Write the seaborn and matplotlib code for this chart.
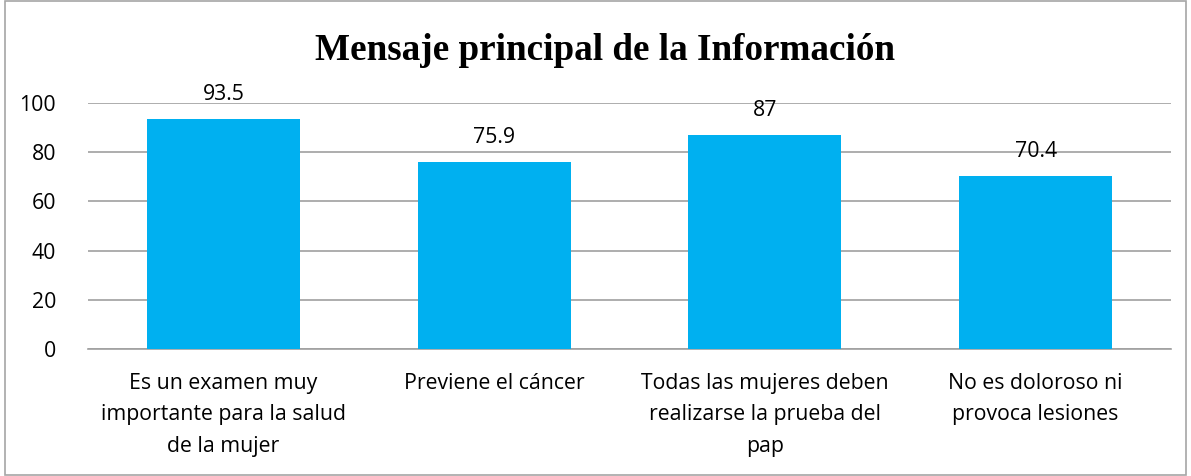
import matplotlib
matplotlib.use("Agg")
import matplotlib.pyplot as plt
import seaborn as sns
import pandas as pd
from matplotlib.patches import Rectangle

categories = ["Es un examen muy\nimportante para la salud\nde la mujer",
              "Previene el cáncer",
              "Todas las mujeres deben\nrealizarse la prueba del\npap",
              "No es doloroso ni\nprovoca lesiones"]
values = [93.5, 75.9, 87, 70.4]
value_labels = ["93.5", "75.9", "87", "70.4"]
yticks = [0, 20, 40, 60, 80, 100]
title = "Mensaje principal de la Información"

sns.set_theme(style="white")
plt.rcParams['font.family'] = ['Open Sans', 'DejaVu Sans']

df = pd.DataFrame({"cat": categories, "val": values})

fig = plt.figure(figsize=(11.91, 4.76), dpi=100)
ax = fig.add_axes([0.0739, 0.2668, 0.9093, 0.5168])
sns.barplot(data=df, x="cat", y="val", color="#00B0F0", saturation=1, width=0.565,
            linewidth=0, ax=ax, zorder=3)

fs = 15.3
ax.set_ylim(0, 100)
ax.set_yticks(yticks)
ax.set_yticklabels([str(t) for t in yticks], fontsize=fs, color="#000000")
ax.set_xticklabels(categories, fontsize=fs, color="#000000", linespacing=1.67)
ax.set_xlabel("")
ax.set_ylabel("")
ax.yaxis.grid(True, color="#A0A0A0", linewidth=1.2, zorder=0)
ax.set_axisbelow(True)
for s in ["top", "right", "left"]:
    ax.spines[s].set_visible(False)
ax.spines["bottom"].set_color("#A0A0A0")
ax.spines["bottom"].set_linewidth(1.2)
ax.tick_params(axis="x", length=0, pad=17)
ax.tick_params(axis="y", length=0, pad=23)

for p, lab in zip(ax.patches, value_labels):
    ax.annotate(lab, (p.get_x() + p.get_width() / 2, p.get_height()),
                xytext=(0, 10), textcoords="offset points", ha="center", va="bottom",
                fontsize=fs, color="#000000")

fig.text(0.508, 0.893, title, ha="center", va="center", fontsize=26.7,
         fontweight="bold", family="Liberation Serif", color="#000000")

fig.patches.append(Rectangle((0.004, 0.003), 0.992, 0.994, transform=fig.transFigure,
                             fill=False, edgecolor="#A6A6A6", linewidth=1.2))

fig.savefig("out.png", dpi=100)
